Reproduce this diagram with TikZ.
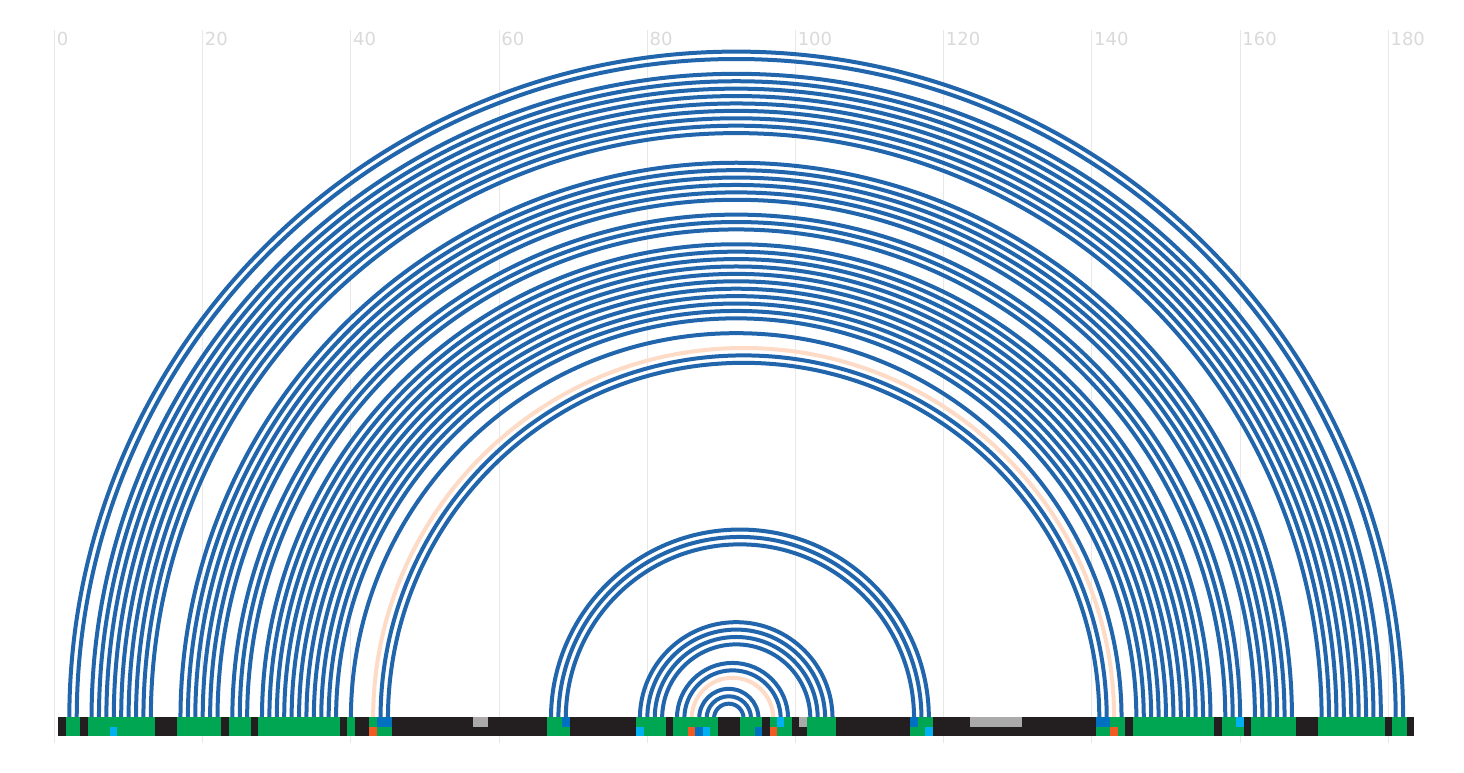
\documentclass[tikz,border=0pt]{standalone}
\usepackage{fontspec}
\setmainfont{DejaVu Sans}
\usepackage{xcolor}
\usetikzlibrary{calc}

\definecolor{arcblue}{HTML}{2166AC}
\definecolor{arcpeach}{HTML}{FDDBC7}
\definecolor{pairgreen}{HTML}{00A651}
\definecolor{loopblack}{HTML}{231F20}
\definecolor{markblue}{HTML}{0070C0}
\definecolor{markcyan}{HTML}{00B0F0}
\definecolor{markorange}{HTML}{F15A22}
\definecolor{markgray}{HTML}{AAAAAA}
\definecolor{gridgray}{HTML}{E8E8E8}
\definecolor{ticktext}{HTML}{DADADA}

\begin{document}
\begin{tikzpicture}[
                x=0.75pt, y=0.75pt,
                gridline/.style={draw=gridgray, line width=0.75pt},
                ticklabel/.style={anchor=west, inner sep=0pt, text=ticktext, font=\fontsize{13.5}{14}\selectfont},
                helix/.style={draw=arcblue, line width=3pt},
                knot/.style={draw=arcpeach, line width=3pt}
            ]
                % Canvas
                \fill[white] (0,0) rectangle (1464,772);
                \useasboundingbox (0,0) rectangle (1464,772);

                % Position axis
                \foreach \t in {0,20,...,180} {
                    \draw[gridline] ({54.5+7.41*\t},29) -- ({54.5+7.41*\t},742);
                    \node[ticklabel] (tick\t) at ({56.5+7.41*\t},733.5) {\t};
                }

                % Nucleotide positions
                \foreach \i in {1,...,183}
                    \coordinate (n\i) at ({54.5+7.41*\i},53.5);

                % Helices: first pair / last pair / length
                \foreach \a/\b/\n in {2/182/2, 5/179/9, 17/167/6, 24/160/3, 28/156/11, 40/144/1,
                                      44/142/2, 67/118/3, 79/105/4, 84/99/2, 87/95/3} {
                    \foreach \k in {1,...,\n} {
                        \pgfmathtruncatemacro{\p}{\a+\k-1}
                        \pgfmathtruncatemacro{\q}{\b-\k+1}
                        \draw[helix] (n\p) arc[start angle=180, end angle=0, radius={3.705*(\q-\p)}];
                    }
                }

                % Non-canonical pairs
                \draw[knot] (n43) arc[start angle=180, end angle=0, radius={3.705*100}];
                \draw[knot] (n86) arc[start angle=180, end angle=0, radius={3.705*11}];

                % Sequence bar
                \fill[loopblack] ({54.5+7.41*0.5},36) rectangle ({54.5+7.41*183.5},55);
                \foreach \a/\b in {2/3, 5/13, 17/22, 24/26, 28/38, 40/40, 43/45, 67/69, 79/82, 84/89,
                                   93/95, 97/99, 102/105, 116/118, 141/144, 146/156, 158/160,
                                   162/167, 171/179, 181/182}
                    \fill[pairgreen] ({54.5+7.41*(\a-0.5)},36) rectangle ({54.5+7.41*(\b+0.5)},55);

                % Upper track marks
                \foreach \a/\b/\c in {44/45/markblue, 57/58/markgray, 69/69/markblue, 98/98/markcyan,
                                      101/101/markgray, 116/116/markblue, 124/130/markgray,
                                      141/142/markblue, 160/160/markcyan}
                    \fill[\c] ({54.5+7.41*(\a-0.5)},45) rectangle ({54.5+7.41*(\b+0.5)},55);

                % Lower track marks
                \foreach \a/\c in {8/markcyan, 43/markorange, 79/markcyan, 86/markorange, 87/markblue,
                                   88/markcyan, 95/markblue, 97/markorange, 118/markcyan, 143/markorange}
                    \fill[\c] ({54.5+7.41*(\a-0.5)},36) rectangle ({54.5+7.41*(\a+0.5)},45);
            \end{tikzpicture}
\end{document}
